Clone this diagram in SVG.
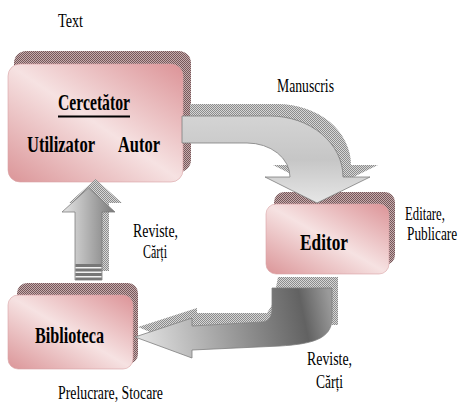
<svg xmlns="http://www.w3.org/2000/svg" width="461" height="407" viewBox="0 0 461 407">
<style>
  .t { font-family: "Liberation Serif", "Times New Roman", serif; fill: #000; }
  .r { font-size: 19px; }
  .b { font-size: 22.5px; font-weight: bold; }
  .box { fill: url(#pink); stroke: #d9a3a5; stroke-width: 0.6; }
  .bsh { fill: url(#hatchR); }
  .ash { fill: url(#hatchG); }
  .arr { stroke: #7e7e7e; stroke-width: 0.8; }
</style>
<defs>
  <pattern id="hatchR" width="2" height="2" patternUnits="userSpaceOnUse">
    <rect width="2" height="2" fill="#c6acad"/>
    <rect width="1" height="1" fill="#76585a"/>
    <rect x="1" y="1" width="1" height="1" fill="#76585a"/>
  </pattern>
  <pattern id="hatchG" width="2" height="2" patternUnits="userSpaceOnUse">
    <rect width="2" height="2" fill="#d6d6d6"/>
    <rect width="1" height="1" fill="#8c8c8c"/>
    <rect x="1" y="1" width="1" height="1" fill="#8c8c8c"/>
  </pattern>
  <linearGradient id="pink" x1="1" y1="0" x2="0" y2="1">
    <stop offset="0" stop-color="#dc9397"/>
    <stop offset="0.5" stop-color="#f6e2e2"/>
    <stop offset="1" stop-color="#db9598"/>
  </linearGradient>
  <linearGradient id="gTop" x1="0" y1="0" x2="0" y2="1">
    <stop offset="0" stop-color="#d4d4d4"/>
    <stop offset="0.5" stop-color="#c6c6c6"/>
    <stop offset="1" stop-color="#e6e6e6"/>
  </linearGradient>
  <linearGradient id="gUp" x1="0" y1="0" x2="1" y2="0">
    <stop offset="0" stop-color="#e6e6e6"/>
    <stop offset="1" stop-color="#7a7a7a"/>
  </linearGradient>
  <linearGradient id="gBot" gradientUnits="userSpaceOnUse" x1="140" y1="340" x2="330" y2="300">
    <stop offset="0" stop-color="#e2e2e2"/>
    <stop offset="0.55" stop-color="#8e8e8e"/>
    <stop offset="0.85" stop-color="#626262"/>
    <stop offset="1" stop-color="#9a9a9a"/>
  </linearGradient>
</defs>

<text class="t r" x="58" y="27" textLength="25" lengthAdjust="spacingAndGlyphs">Text</text>

<g id="cercetator">
  <rect class="bsh" x="14" y="51" width="177" height="121" rx="12"/>
  <rect class="box" x="8" y="64" width="175" height="118" rx="12"/>
  <text class="t b" x="58" y="110" textLength="72" lengthAdjust="spacingAndGlyphs">Cercetător</text>
  <line x1="58" y1="116.5" x2="130" y2="116.5" stroke="#000" stroke-width="2"/>
  <text class="t b" x="27" y="152" textLength="68" lengthAdjust="spacingAndGlyphs">Utilizator</text>
  <text class="t b" x="118" y="152" textLength="42" lengthAdjust="spacingAndGlyphs">Autor</text>
</g>

<g id="editor">
  <rect class="bsh" x="274" y="192" width="121" height="73" rx="10"/>
  <rect class="box" x="266" y="204" width="123" height="70" rx="10"/>
  <text class="t b" x="300" y="250" textLength="48" lengthAdjust="spacingAndGlyphs">Editor</text>
</g>

<g id="biblioteca">
  <rect class="bsh" x="17" y="283" width="121" height="81" rx="10"/>
  <rect class="box" x="8" y="295" width="125" height="74" rx="10"/>
  <text class="t b" x="35" y="343" textLength="69" lengthAdjust="spacingAndGlyphs">Biblioteca</text>
</g>

<g id="connectors">
  <!-- Cercetator -> Editor -->
  <path class="ash" transform="translate(8,-12)" d="M 182 116 L 270 116 A 73 61 0 0 1 343 177 L 370 177 L 317 203 L 265 177 L 290 177 A 43 34 0 0 0 247 143 L 182 143 Z"/>
  <path class="arr" fill="url(#gTop)" d="M 182 116 L 270 116 A 73 61 0 0 1 343 177 L 370 177 L 317 203 L 265 177 L 290 177 A 43 34 0 0 0 247 143 L 182 143 Z"/>

  <!-- Editor -> Biblioteca -->
  <path class="ash" d="M 278 277 L 338 277 L 338 325 L 332 325 L 332 288 L 272 288 L 272 305 L 267 313 L 197 313 L 197 308 L 138 327 L 150 332 L 192 318 L 192 326 L 262 322 C 270 321 272 315 272 308 Z"/>
  <path class="arr" fill="url(#gBot)" d="M 272 288 L 332 288 L 332 318 C 332 340 310 344 280 346 L 192 350 L 192 358 L 135 337 L 192 318 L 192 326 L 262 322 C 270 321 272 315 272 308 Z"/>

  <!-- Biblioteca -> Cercetator -->
  <path class="ash" transform="translate(7,-9)" d="M 75 280 L 75 212 L 62 212 L 88.5 188 L 115 212 L 102 212 L 102 280 Z"/>
  <path class="arr" fill="url(#gUp)" d="M 75 280 L 75 212 L 62 212 L 88.5 188 L 115 212 L 102 212 L 102 280 Z"/>
  <rect x="75.5" y="264" width="26" height="16" fill="#777"/>
  <rect x="75.5" y="267" width="26" height="1.5" fill="#f2f2f2"/>
  <rect x="75.5" y="271.5" width="26" height="1.5" fill="#f2f2f2"/>
  <rect x="75.5" y="276" width="26" height="1.5" fill="#f2f2f2"/>
</g>

<text class="t r" x="277" y="92" textLength="57" lengthAdjust="spacingAndGlyphs">Manuscris</text>
<text class="t r" transform="translate(405,220) scale(0.67,1)">Editare,</text>
<text class="t r" transform="translate(407,240) scale(0.7,1)">Publicare</text>
<text class="t r" x="133" y="237" textLength="45" lengthAdjust="spacingAndGlyphs">Reviste,</text>
<text class="t r" x="143" y="258" textLength="24" lengthAdjust="spacingAndGlyphs">Cărți</text>
<text class="t r" x="307" y="365" textLength="45" lengthAdjust="spacingAndGlyphs">Reviste,</text>
<text class="t r" x="316" y="388" textLength="27" lengthAdjust="spacingAndGlyphs">Cărți</text>
<text class="t r" x="58" y="399" textLength="105" lengthAdjust="spacingAndGlyphs">Prelucrare, Stocare</text>
</svg>
